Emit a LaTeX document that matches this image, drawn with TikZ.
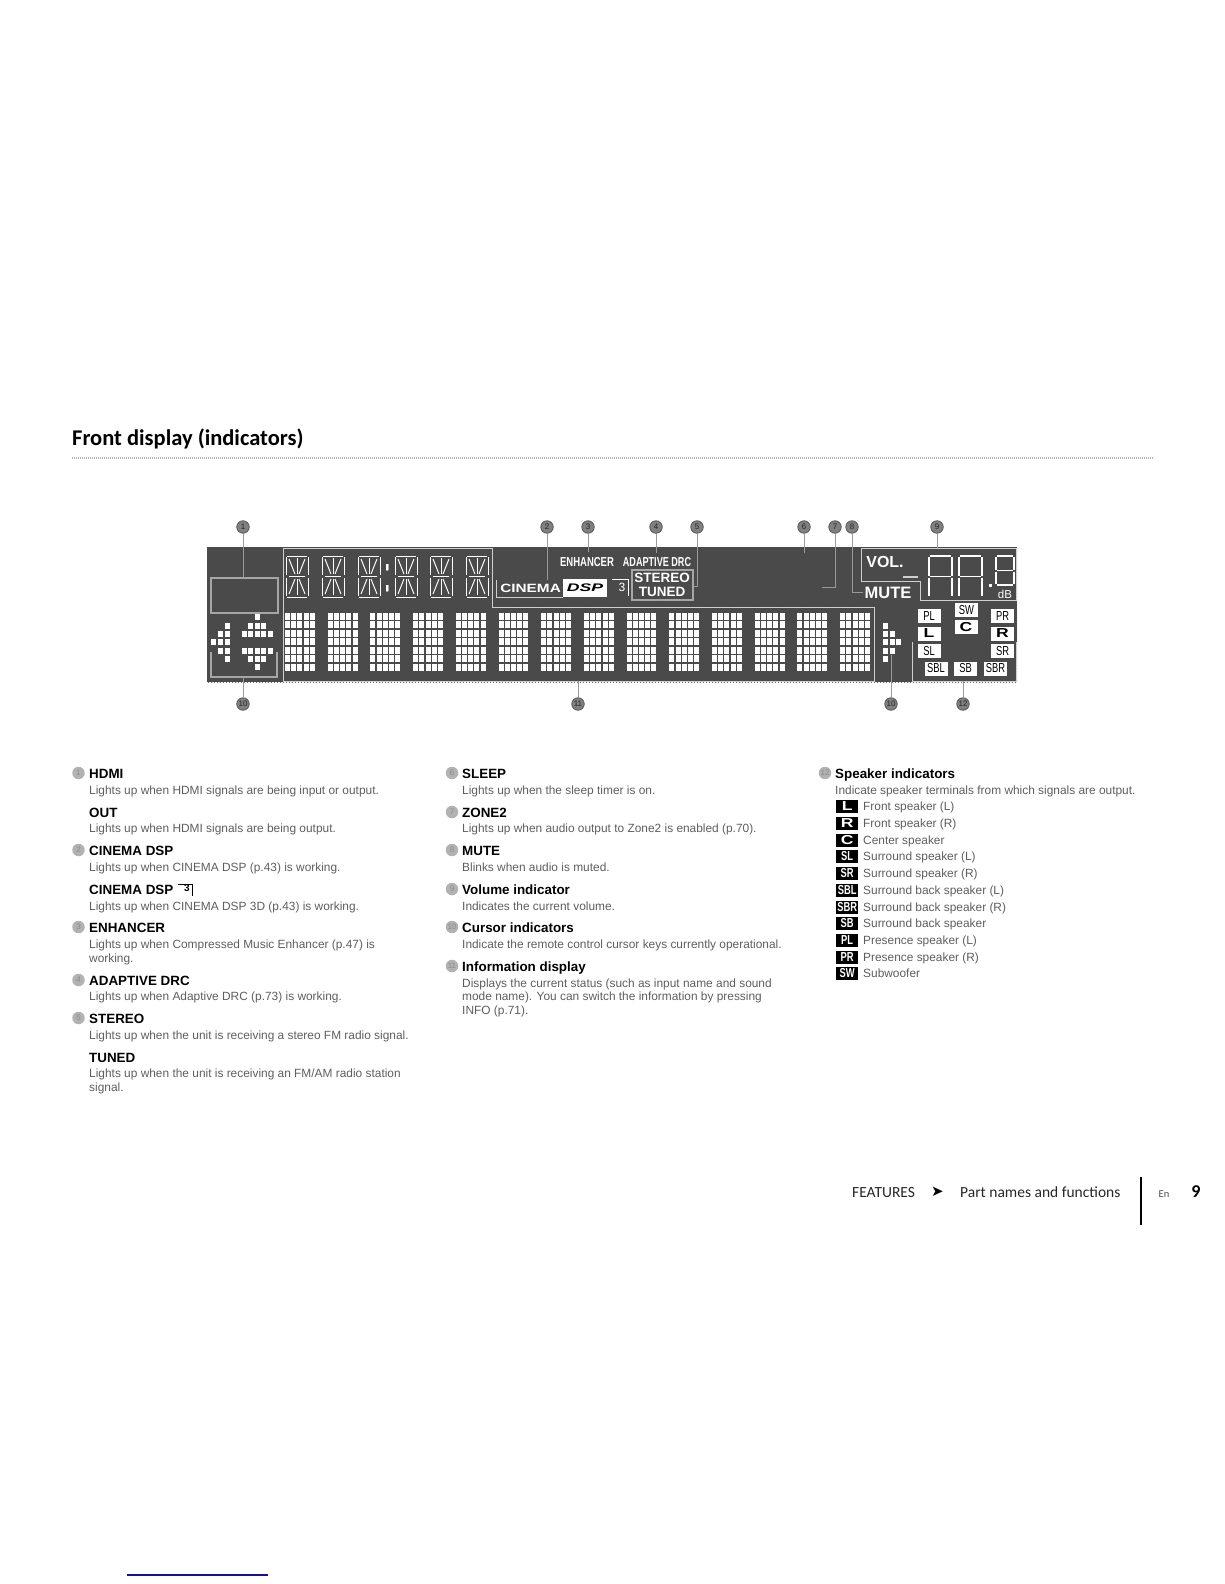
\documentclass[tikz,border=0pt]{standalone}
\usepackage{fontspec}
\setmainfont{Liberation Sans}
\newfontfamily\titlefont{Carlito}
\usetikzlibrary{patterns}
\definecolor{panelgray}{HTML}{4A4A4A}
\definecolor{panelline}{HTML}{D0D0D0}
\definecolor{bodygray}{HTML}{5E5E5E}
\definecolor{ruleblue}{HTML}{10109C}
\tikzset{
  numdot/.style={circle, fill=black!50, draw=black!65, line width=0.8pt, text=black!85, inner sep=0pt, minimum size=12.5pt, font=\fontsize{8}{8}\selectfont},
  listdot/.style={circle, fill=gray!60, text=gray!90, inner sep=0pt, minimum size=12.5pt, font=\fontsize{8}{8}\selectfont},
  pointer/.style={draw=gray!80, line width=1pt},
  frameline/.style={draw=panelline, line width=1pt},
  head/.style={anchor=base west, yshift=-5pt, inner sep=0pt, font=\fontsize{13.4}{14}\selectfont\bfseries},
  desc/.style={anchor=base west, yshift=-4pt, inner sep=0pt, text=bodygray, font=\fontsize{11.9}{12}\selectfont},
  panellabel/.style={inner sep=0pt, text=white, font=\fontsize{12}{12}\selectfont},
  spkbox/.style={fill=white, inner sep=0pt, minimum width=23pt, minimum height=14pt, text=black, font=\fontsize{13}{13}\selectfont},
  spkwide/.style={spkbox, font=\fontsize{13}{13}\selectfont\bfseries},
  spkicon/.style={fill=black, text=white, anchor=west, inner sep=0pt, minimum width=22pt, minimum height=13pt, font=\fontsize{13}{13}\selectfont\bfseries},
  footer/.style={anchor=base west, inner sep=0pt, text=black!85, font=\titlefont\fontsize{15.5}{15.5}\selectfont}
}
\newcommand{\narrowtxt}[1]{\scalebox{.72}[1]{#1}}
\newcommand{\widetxt}[1]{\scalebox{1.35}[1]{#1}}
% one 14-segment character, top left corner at #1,#2
\newcommand{\segchar}[2]{%
  \begin{scope}[shift={(#1,#2)}, draw=white, line width=1pt]
    \draw (1,0) -- (21,0) (1,41) -- (21,41) (3,20.5) -- (19,20.5);
    \draw (0,1) -- (0,19) (22,1) -- (22,19) (0,22) -- (0,40) (22,22) -- (22,40);
    \draw (11,2) -- (11,18) (11,23) -- (11,39);
    \draw (3,3) -- (9,18) (19,3) -- (13,18) (9,23) -- (3,38) (13,23) -- (19,38);
  \end{scope}}
% one 7-segment digit without its foot, top left corner at #1,#2, size #3 x #4
\newcommand{\digitseg}[4]{%
  \begin{scope}[shift={(#1,#2)}, draw=white, line width=1.4pt]
    \draw (1,0) -- ({#3-1},0) (1,#4/2) -- ({#3-1},#4/2);
    \draw (0,1) -- (0,{#4/2-1}) (#3,1) -- (#3,{#4/2-1}) (0,{#4/2+1}) -- (0,{#4-1}) (#3,{#4/2+1}) -- (#3,{#4-1});
  \end{scope}}
\begin{document}
\begin{tikzpicture}[x=1pt, y=-1pt]
  \useasboundingbox (0,0) rectangle (1224,1584);

  % title
  \node[anchor=base west, inner sep=0pt, font=\titlefont\fontsize{22.5}{24}\selectfont\bfseries] (title) at (72,445) {Front display (indicators)};
  \coordinate (ruleL) at (72,457.5);
  \coordinate (ruleR) at (1154,457.5);
  \draw[gray!60, line width=2pt, dash pattern=on 1pt off 1pt] (ruleL) -- (ruleR);

  % display panel
  \fill[panelgray] (207,547) rectangle (1017,682);
  \fill[pattern=crosshatch dots, pattern color=black!70] (207,547) rectangle (1017,682);

  % frames
  \draw[frameline] (283,548) -- (492,548) -- (492,607) -- (874,607) -- (874,681) -- (283,681) -- cycle;
  \draw[frameline, draw=gray!70, line width=1.5pt] (211,578) rectangle (278,613);
  \draw[frameline, draw=gray!70, line width=1.5pt] (211,652) -- (211,677) -- (277,677) -- (277,652);
  \draw[frameline] (861,548) -- (1016,548) -- (1016,600) -- (920,600) -- (920,581) -- (861,581) -- cycle;
  \draw[frameline] (912,642) -- (912,681) -- (1016,681) -- (1016,642);

  % dot matrix
  \foreach \c in {0,...,13}
    \foreach \i in {0,...,4}
      \foreach \j in {0,...,6}
        \fill[white] ({285+\c*42.7+\i*6.2},{613+\j*8.45}) rectangle +(5,6.8);

  % 14-segment characters
  \foreach \x in {286,322,358,395,430,466}
    \segchar{\x}{556}
  \fill[white] (386,564) rectangle +(2,6) (386,585) rectangle +(2,6);

  % cursor arrows
  \foreach \x/\y in {213/642, 220/634, 220/642, 220/651, 227/626, 227/634, 227/642, 227/651, 227/659,
                     257/617, 250/626, 257/626, 263/626, 244/634, 250/634, 257/634, 263/634, 270/634,
                     244/651, 250/651, 257/651, 263/651, 270/651, 250/659, 257/659, 263/659, 257/667,
                     885/626, 885/634, 885/642, 885/651, 885/659, 892/634, 892/642, 892/651, 898/642}
    \fill[white] ({\x-2.5},{\y-3.4}) rectangle +(5,6.8);

  % cinema dsp
  \coordinate (cinemaTop) at (496,580);
  \coordinate (cinemaEnd) at (563,597);
  \draw[frameline, line width=0.8pt] (cinemaTop) -- (cinemaTop |- cinemaEnd) -- (cinemaEnd);
  \node[panellabel, anchor=west, xscale=1.28, font=\fontsize{12}{12}\selectfont\bfseries] (cinema) at (500,588) {CINEMA};
  \node[fill=white, inner sep=0pt, minimum width=44pt, minimum height=18pt] (dsp) at (585,588) {};
  \node[inner sep=0pt, text=black, xscale=1.6, font=\fontsize{11}{11}\selectfont\bfseries\itshape] (dsptxt) at (585,588) {DSP};
  \coordinate (threeA) at (612,579);
  \coordinate (threeB) at (628,596);
  \draw[draw=white, line width=0.8pt] (threeA) -- (threeB |- threeA) -- (threeB);
  \node[panellabel] (three) at (622,587) {3};

  \node[panellabel, xscale=.73, font=\fontsize{13}{13}\selectfont\bfseries] (enhancer) at (587,562) {ENHANCER};
  \node[panellabel, xscale=.7, font=\fontsize{13}{13}\selectfont\bfseries] (adrc) at (657,562) {ADAPTIVE DRC};
  \node[draw=gray!70, line width=1.5pt, minimum width=61pt, minimum height=30pt, inner sep=0pt] (tuner) at (662.5,585) {};
  \node[panellabel, font=\fontsize{13.5}{13.5}\selectfont\bfseries] (stereo) at (662,578) {STEREO};
  \node[panellabel, font=\fontsize{13.5}{13.5}\selectfont\bfseries] (tuned) at (662,592) {TUNED};
  \node[panellabel, font=\fontsize{16.5}{16.5}\selectfont\bfseries] (mute) at (888,593) {MUTE};
  \node[panellabel, font=\fontsize{16}{16}\selectfont\bfseries] (vol) at (885,562) {VOL.};
  \node[panellabel, font=\fontsize{11.5}{11.5}\selectfont] (db) at (1005,594) {dB};

  % volume digits
  \digitseg{929}{556}{23}{41}
  \digitseg{959}{556}{23}{41}
  \digitseg{996}{556}{18}{29}
  \draw[white, line width=1.4pt] (997,585) -- (1013,585);
  \fill[white] (989,584) rectangle +(3,3);
  \fill[panelline] (903,576) rectangle (918,578);

  % speaker boxes
  \node[spkbox] (spkPL) at (929,616) {\narrowtxt{PL}};
  \node[spkbox] (spkSW) at (966.5,610) {\narrowtxt{SW}};
  \node[spkbox] (spkPR) at (1002.5,616) {\narrowtxt{PR}};
  \node[spkwide] (spkL) at (929,633.5) {\widetxt{L}};
  \node[spkwide] (spkC) at (966,627) {\widetxt{C}};
  \node[spkwide] (spkR) at (1002.5,633.5) {\widetxt{R}};
  \node[spkbox] (spkSL) at (929,651) {\narrowtxt{SL}};
  \node[spkbox] (spkSR) at (1002.5,651) {\narrowtxt{SR}};
  \node[spkbox] (spkSBL) at (936,668.5) {\narrowtxt{SBL}};
  \node[spkbox] (spkSB) at (965.5,668.5) {\narrowtxt{SB}};
  \node[spkbox] (spkSBR) at (995.5,668.5) {\narrowtxt{SBR}};

  % number dots
  \node[numdot] (n1) at (243,527) {1};
  \node[numdot] (n2) at (547,527) {2};
  \node[numdot] (n3) at (588,527) {3};
  \node[numdot] (n4) at (656,527) {4};
  \node[numdot] (n5) at (697,527) {5};
  \node[numdot] (n6) at (804,527) {6};
  \node[numdot] (n7) at (835,527) {7};
  \node[numdot] (n8) at (852,527) {8};
  \node[numdot] (n9) at (937,527) {9};
  \node[numdot] (n10a) at (243,704) {10};
  \node[numdot] (n11) at (578,704) {11};
  \node[numdot] (n10b) at (891,704) {10};
  \node[numdot] (n12) at (963,704) {12};

  % pointers
  \coordinate (p1) at (243,578);
  \coordinate (p2) at (547,580);
  \coordinate (p3) at (588,552);
  \coordinate (p4) at (656,553);
  \coordinate (p5a) at (697,586);
  \coordinate (p5b) at (693,586);
  \coordinate (p6) at (804,553);
  \coordinate (p7a) at (835,587);
  \coordinate (p7b) at (822,587);
  \coordinate (p8a) at (852,592);
  \coordinate (p8b) at (863,592);
  \coordinate (p9) at (937,548);
  \coordinate (p10a) at (243,677);
  \coordinate (p11) at (578,681);
  \coordinate (p10b) at (891,655);
  \coordinate (p12) at (963,681);
  \draw[pointer] (n1) -- (p1);
  \draw[pointer] (n2) -- (p2);
  \draw[pointer] (n3) -- (p3);
  \draw[pointer] (n4) -- (p4);
  \draw[pointer] (n5) -- (p5a) -- (p5b);
  \draw[pointer] (n6) -- (p6);
  \draw[pointer] (n7) -- (p7a) -- (p7b);
  \draw[pointer] (n8) -- (p8a) -- (p8b);
  \draw[pointer] (n9) -- (p9);
  \draw[pointer] (n10a) -- (p10a);
  \draw[pointer] (n11) -- (p11);
  \draw[pointer] (n10b) -- (p10b);
  \draw[pointer] (n12) -- (p12);

  % first column
  \node[listdot] (l1) at (78.5,773) {1};
  \node[head] (hdmi) at (89,773) {HDMI};
  \node[desc] (hdmid) at (89,790) {Lights up when HDMI signals are being input or output.};
  \node[head] (out) at (89,812) {OUT};
  \node[desc] (outd) at (89,828) {Lights up when HDMI signals are being output.};
  \node[listdot] (l2) at (78.5,850) {2};
  \node[head] (cdsp) at (89,850) {CINEMA DSP};
  \node[desc] (cdspd) at (89,867) {Lights up when CINEMA DSP (p.43) is working.};
  \node[head] (cdspt) at (89,889) {CINEMA DSP};
  \node[inner sep=0pt, font=\fontsize{10}{10}\selectfont\bfseries] (cdspthree) at (187,888.5) {3};
  \draw[line width=0.8pt] (178,884) -- (192.5,884) -- (192.5,896);
  \node[desc] (cdsptd) at (89,906) {Lights up when CINEMA DSP 3D (p.43) is working.};
  \node[listdot] (l3) at (78.5,927) {3};
  \node[head] (enh) at (89,927) {ENHANCER};
  \node[desc] (enhd) at (89,944) {Lights up when Compressed Music Enhancer (p.47) is};
  \node[desc] (enhe) at (89,958) {working.};
  \node[listdot] (l4) at (78.5,980) {4};
  \node[head] (adap) at (89,980) {ADAPTIVE DRC};
  \node[desc] (adapd) at (89,996) {Lights up when Adaptive DRC (p.73) is working.};
  \node[listdot] (l5) at (78.5,1018) {5};
  \node[head] (ster) at (89,1018) {STEREO};
  \node[desc] (sterd) at (89,1035) {Lights up when the unit is receiving a stereo FM radio signal.};
  \node[head] (tun) at (89,1057) {TUNED};
  \node[desc] (tund) at (89,1073) {Lights up when the unit is receiving an FM/AM radio station};
  \node[desc] (tune) at (89,1087) {signal.};

  % second column
  \node[listdot] (l6) at (452,773) {6};
  \node[head] (sleep) at (462,773) {SLEEP};
  \node[desc] (sleepd) at (462,790) {Lights up when the sleep timer is on.};
  \node[listdot] (l7) at (452,812) {7};
  \node[head] (zone) at (462,812) {ZONE2};
  \node[desc] (zoned) at (462,828) {Lights up when audio output to Zone2 is enabled (p.70).};
  \node[listdot] (l8) at (452,850) {8};
  \node[head] (mutehd) at (462,850) {MUTE};
  \node[desc] (muted) at (462,867) {Blinks when audio is muted.};
  \node[listdot] (l9) at (452,889) {9};
  \node[head] (volhd) at (462,889) {Volume indicator};
  \node[desc] (vold) at (462,906) {Indicates the current volume.};
  \node[listdot] (l10) at (452,927) {10};
  \node[head] (curs) at (462,927) {Cursor indicators};
  \node[desc] (cursd) at (462,944) {Indicate the remote control cursor keys currently operational.};
  \node[listdot] (l11) at (452,966) {11};
  \node[head] (info) at (462,966) {Information display};
  \node[desc] (infod) at (462,983) {Displays the current status (such as input name and sound};
  \node[desc] (infoe) at (462,996) {mode name). You can switch the information by pressing};
  \node[desc] (infof) at (462,1010) {INFO (p.71).};

  % third column
  \node[listdot] (l12) at (825,773) {12};
  \node[head] (spkhd) at (835,773) {Speaker indicators};
  \node[desc] (spkd) at (835,790) {Indicate speaker terminals from which signals are output.};
  \foreach \y/\tag/\txt/\how in {806/L/Front speaker (L)/\widetxt, 823/R/Front speaker (R)/\widetxt, 840/C/Center speaker/\widetxt,
                            856/SL/Surround speaker (L)/\narrowtxt, 873/SR/Surround speaker (R)/\narrowtxt,
                            890/SBL/Surround back speaker (L)/\narrowtxt, 907/SBR/Surround back speaker (R)/\narrowtxt,
                            923/SB/Surround back speaker/\narrowtxt, 940/PL/Presence speaker (L)/\narrowtxt,
                            957/PR/Presence speaker (R)/\narrowtxt, 973/SW/Subwoofer/\narrowtxt} {
    \node[spkicon] (icon\tag) at (836,\y) {\how{\tag}};
    \node[desc] (name\tag) at (863,\y) {\txt};
  }

  % footer
  \node[footer] (featr) at (852,1197) {FEATURES};
  \node[inner sep=0pt, font=\fontsize{15}{15}\selectfont] (farrow) at (937.5,1192) {\fontspec{DejaVu Sans}➤};
  \node[footer] (fpart) at (960,1197) {Part names and functions};
  \coordinate (barT) at (1141,1177);
  \coordinate (barB) at (1141,1225);
  \draw[line width=1.5pt] (barT) -- (barB);
  \node[footer, anchor=base, font=\titlefont\fontsize{10.5}{10.5}\selectfont, text=black!70] (lang) at (1164,1197) {En};
  \node[footer, anchor=base, font=\titlefont\fontsize{18}{18}\selectfont\bfseries, text=black] (pageno) at (1196,1197) {9};

  % blue line at the foot
  \coordinate (footL) at (127,1575);
  \coordinate (footR) at (268,1575);
  \draw[ruleblue, line width=1.2pt] (footL) -- (footR);
\end{tikzpicture}
\end{document}
